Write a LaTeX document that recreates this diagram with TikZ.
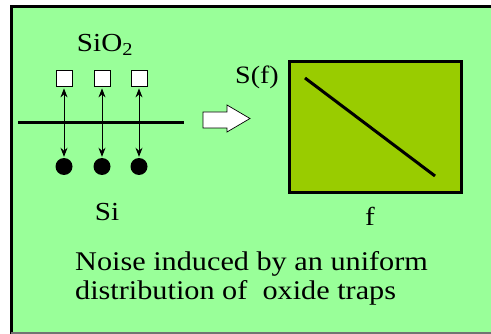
\documentclass[tikz,border=0pt]{standalone}
\usepackage{fontspec}
\setmainfont{Liberation Serif}[FakeStretch=1.12]
\usetikzlibrary{arrows.meta}
\definecolor{bggreen}{HTML}{99FF99}
\definecolor{plotgreen}{HTML}{99CC00}
\tikzset{
  trap/.style={draw=black, fill=white, line width=0.8pt, minimum size=16pt, inner sep=0pt},
  carrier/.style={circle, fill=black, minimum size=17pt, inner sep=0pt},
  exch/.style={line width=1pt, {Stealth[length=9pt,width=7pt]}-{Stealth[length=9pt,width=7pt]}, shorten <=2pt, shorten >=1pt},
  lbl/.style={font=\fontsize{26}{29}\selectfont, inner sep=0pt},
}
\begin{document}
\begin{tikzpicture}[x=1pt,y=-1pt]
\useasboundingbox (0,0) rectangle (491,334);
\fill[white] (0,0) rectangle (491,334);
\fill[bggreen] (11,7) rectangle (491,334);
\draw[line width=3pt] (11,334) -- (11,7) -- (491,7);
\draw[line width=2pt, black!55] (11,333) -- (491,333);
% left part
\node[lbl] (sio2) at (105,45) {SiO\textsubscript{2}};
\foreach \i/\x in {1/64,2/102,3/139}{
  \node[trap] (t\i) at (\x,78) {};
  \node[carrier] (c\i) at (\x,166.5) {};
  \draw[exch] (t\i.south) -- (c\i.north);
}
\coordinate (ifl) at (18,122.5);
\coordinate (ifr) at (184,122.5);
\draw[line width=3pt] (ifl) -- (ifr);
\node[lbl] (si) at (107,212) {Si};
% block arrow
\draw[fill=white, line width=0.7pt, line join=miter]
  (203,112) -- (227,112) -- (227,105) -- (250,118.5) -- (227,132) -- (227,128) -- (203,128) -- cycle;
% plot
\node[draw=black, fill=plotgreen, line width=3pt, minimum width=172pt, minimum height=131pt, inner sep=0pt] (plot) at (375.5,127) {};
\coordinate (d1) at (305,78);
\coordinate (d2) at (435,176);
\draw[line width=3pt] (d1) -- (d2);
\node[lbl, font=\fontsize{25}{28}\selectfont] (sf) at (257,77) {S(f)};
\node[lbl] (f) at (370,216) {f};
% caption
\node[lbl, font=\fontsize{27}{29}\selectfont, align=left, anchor=north west] (cap) at (75,251) {Noise induced by an uniform\\distribution of\ \ oxide traps};
\end{tikzpicture}
\end{document}
